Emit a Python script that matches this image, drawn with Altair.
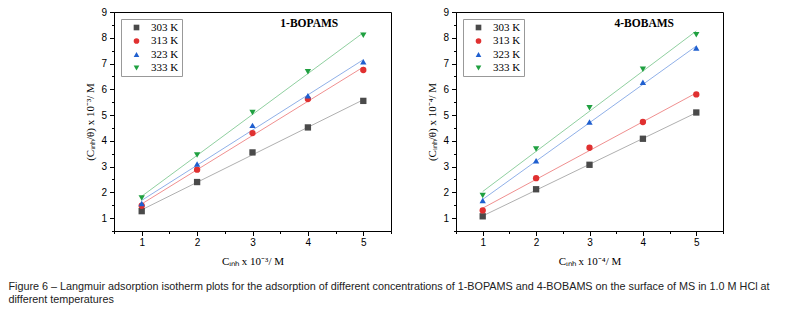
import altair as alt
import pandas as pd

conc = [1, 2, 3, 4, 5]
temps = ["303 K", "313 K", "323 K", "333 K"]

bopams_303 = [1.27, 2.40, 3.55, 4.52, 5.55]
bopams_313 = [1.48, 2.88, 4.30, 5.62, 6.75]
bopams_323 = [1.57, 3.10, 4.60, 5.75, 7.07]
bopams_333 = [1.78, 3.45, 5.10, 6.68, 8.10]

bobams_303 = [1.07, 2.12, 3.07, 4.08, 5.10]
bobams_313 = [1.30, 2.55, 3.73, 4.73, 5.80]
bobams_323 = [1.68, 3.23, 4.73, 6.27, 7.60]
bobams_333 = [1.88, 3.68, 5.28, 6.78, 8.12]

point_colors = ["#4a4a4a", "#e03030", "#1f5fcf", "#1fa040"]
line_colors = ["#b0b0b0", "#f09090", "#90b0e8", "#90d0a0"]
shapes = ["square", "circle", "triangle-up", "triangle-down"]

caption = [
    "Figure 6 \u2013 Langmuir adsorption isotherm plots for the adsorption of different concentrations of 1-BOPAMS and 4-BOBAMS on the surface of MS in 1.0 M HCl at",
    "different temperatures",
]


def make_df(series):
    rows = []
    for t, vals in zip(temps, series):
        for c, v in zip(conc, vals):
            rows.append({"T": t, "x": c, "y": v})
    return pd.DataFrame(rows)


df1 = make_df([bopams_303, bopams_313, bopams_323, bopams_333])
df2 = make_df([bobams_303, bobams_313, bobams_323, bobams_333])

serif = "Liberation Serif"
sans = "Liberation Sans"
narrow = "Liberation Sans Narrow, Arial Narrow, Liberation Sans, sans-serif"

tick_cond = {"condition": {"test": "datum.value % 1 === 0", "value": 4.5}, "value": 2.5}
H = 219


def legend():
    return alt.Legend(
        title=None, orient="top-left", offset=7, padding=3, strokeColor="#999",
        labelFont=serif, labelFontSize=11, labelColor="black", symbolSize=32,
        rowPadding=1.5, labelOffset=9, symbolOffset=7, symbolStrokeWidth=0,
    )


def panel(df, name, exp, width):
    xs = alt.Scale(domain=[0.5, 5.5], nice=False, zero=False)
    ys = alt.Scale(domain=[0.5, 9], nice=False, zero=False)
    xax = alt.Axis(
        values=[0.5, 1, 1.5, 2, 2.5, 3, 3.5, 4, 4.5, 5, 5.5],
        labelExpr="datum.value % 1 === 0 && datum.value > 0.5 && datum.value < 5.5 ? format(datum.value, 'd') : ''",
        title=f"C\u1d62\u2099\u2095 x 10\u207b{exp}/ M",
        titleFont=serif, titleFontSize=11, titleFontWeight="normal",
        titlePadding=8,
        labelFont=sans, labelFontSize=10, labelPadding=2,
        grid=False, tickSize=tick_cond, domainColor="black", tickColor="black",
        labelColor="black", titleColor="black",
    )
    yax = alt.Axis(
        values=[0.5, 1, 1.5, 2, 2.5, 3, 3.5, 4, 4.5, 5, 5.5, 6, 6.5, 7, 7.5, 8, 8.5, 9],
        labelExpr="datum.value % 1 === 0 ? format(datum.value, 'd') : ''",
        title=f"(C\u1d62\u2099\u2095/\u03b8) x 10\u207b{exp}/ M",
        titleFont=serif, titleFontSize=11, titleFontWeight="normal",
        titlePadding=5,
        labelFont=sans, labelFontSize=10, labelPadding=3,
        grid=False, tickSize=tick_cond, domainColor="black", tickColor="black",
        labelColor="black", titleColor="black",
    )
    base = alt.Chart(df)
    layers = []
    for t, lc in zip(temps, line_colors):
        layers.append(
            base.transform_filter(alt.datum.T == t)
            .transform_regression("x", "y")
            .mark_line(strokeWidth=1, color=lc)
            .encode(x=alt.X("x:Q", scale=xs, axis=xax), y=alt.Y("y:Q", scale=ys, axis=yax))
        )
    pts = base.mark_point(filled=True, size=40, opacity=1).encode(
        x=alt.X("x:Q", scale=xs, axis=xax),
        y=alt.Y("y:Q", scale=ys, axis=yax),
        fill=alt.Fill("T:N", scale=alt.Scale(domain=temps, range=point_colors), legend=legend()),
        shape=alt.Shape("T:N", scale=alt.Scale(domain=temps, range=shapes), legend=legend()),
    )
    label = alt.Chart(pd.DataFrame({"t": [name]})).mark_text(
        font=serif, fontWeight="bold", fontSize=11.5, color="black"
    ).encode(text="t:N", x=alt.value(width * 0.705), y=alt.value(12))
    layers += [pts, label]
    return alt.layer(*layers).properties(width=width, height=H)


p1 = panel(df1, "1-BOPAMS", "\u00b3", 277)
p2 = panel(df2, "4-BOBAMS", "\u2074", 267)

chart = alt.hconcat(p1, p2, spacing=34).resolve_scale(
    fill="independent", shape="independent"
).properties(
    padding={"left": 0, "top": -2, "right": 0, "bottom": 0},
    title=alt.TitleParams(
        text=caption, orient="bottom", anchor="start", font=narrow,
        fontSize=10.8, fontWeight="normal", color="#222", offset=14, dx=-76, lineHeight=13,
    ),
).configure_view(
    stroke="black", strokeWidth=1
)

chart.save("out.html", embed_options={"renderer": "svg", "actions": False})
